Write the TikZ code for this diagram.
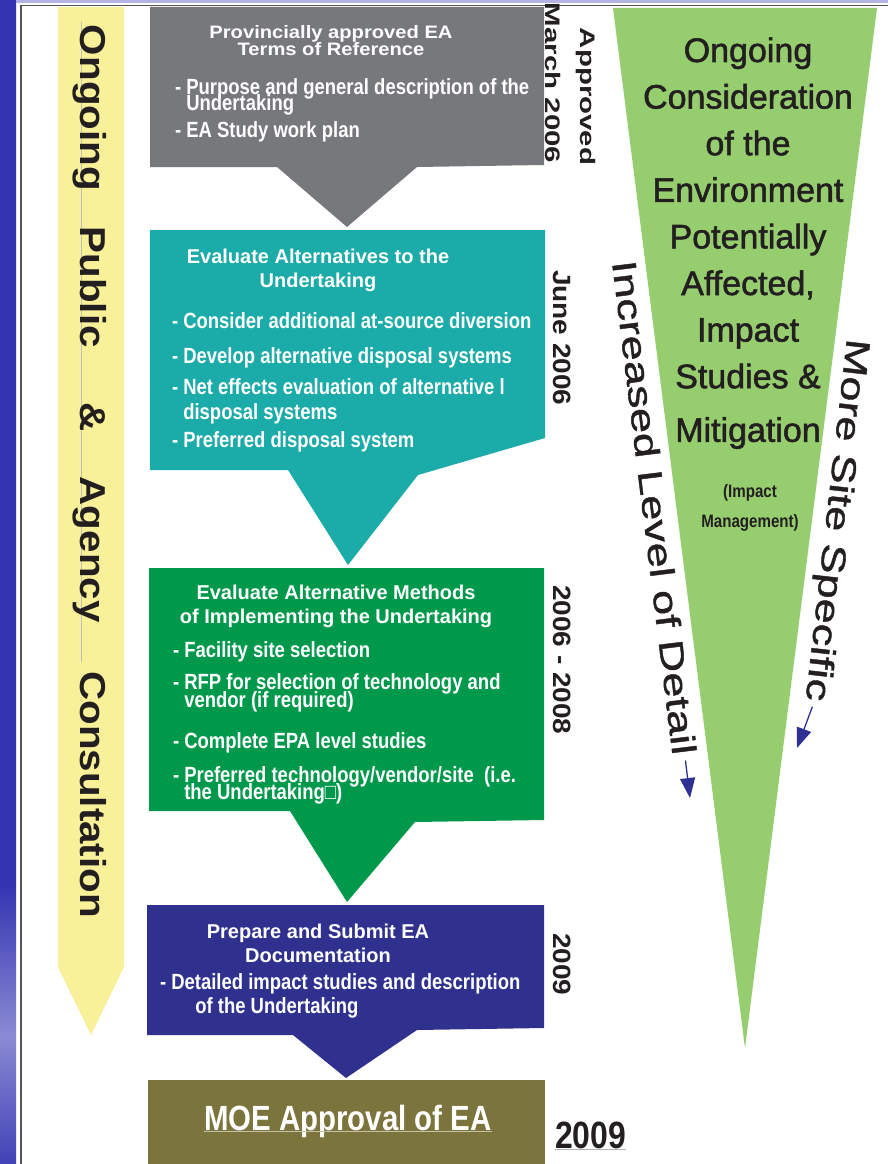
\documentclass[tikz,border=0pt]{standalone}
\usepackage{fontspec}
\setmainfont{Liberation Sans}
\newfontfamily\condfont[FakeStretch=0.84]{Liberation Sans}
\newfontfamily\widefont[FakeStretch=1.12]{Liberation Sans}
\newfontfamily\widerfont[FakeStretch=1.4]{Liberation Sans}
\newfontfamily\sidefont[FakeStretch=1.33,FakeBold=1.2]{Liberation Sans}
\newfontfamily\medfont[FakeBold=1.6]{Liberation Sans}
\usepackage{tikz}
\usetikzlibrary{arrows.meta}
\usepackage{xcolor}

\definecolor{torgray}{HTML}{77787B}
\definecolor{altteal}{HTML}{1BABA8}
\definecolor{methgreen}{HTML}{00994C}
\definecolor{docnavy}{HTML}{30318F}
\definecolor{moeolive}{HTML}{7B743C}
\definecolor{consultyellow}{HTML}{F9F09A}
\definecolor{envgreen}{HTML}{96CD6F}
\definecolor{arrowblue}{HTML}{2E3192}
\definecolor{inkblack}{HTML}{231F20}
\definecolor{framegray}{HTML}{555555}
\definecolor{topband}{HTML}{B4B4E2}
\definecolor{sidedark}{HTML}{2424A8}
\definecolor{sidemid}{HTML}{3434B2}
\definecolor{sidelight}{HTML}{8A8AD4}
\definecolor{sidepale}{HTML}{5A5AC4}
\definecolor{sidetop}{HTML}{9A9ADA}

% side strip of the slide
\pgfdeclareverticalshading{sidebar}{100bp}{color(0bp)=(sidedark); color(24bp)=(sidemid);
  color(30.5bp)=(sidelight); color(37bp)=(sidemid); color(86bp)=(sidemid);
  color(93bp)=(sidepale); color(100bp)=(sidetop)}

% centred lines and hanging items
\newcommand{\centrelines}[2]{\vtop{\baselineskip=#1\lineskiplimit=-\maxdimen
  \halign{\hfil##\hfil\cr#2\crcr}}}
\newcommand{\bul}[3][18pt]{\vtop{\baselineskip=#1\lineskiplimit=-\maxdimen
  \hbox{-~#2}\hbox{\hphantom{-~}#3}}}

\begin{document}
\begin{tikzpicture}[x=1pt,y=-1pt,
	  every node/.style={inner sep=0pt,outer sep=0pt},
	  title/.style={text=white,anchor=base,font=\bfseries\fontsize{20}{24}\selectfont},
	  item/.style={text=white,anchor=base west,font=\condfont\bfseries\fontsize{22}{22}\selectfont},
	  date/.style={text=inkblack,rotate=-90,anchor=base west,font=\widefont\bfseries\fontsize{25}{25}\selectfont},
	  approved/.style={text=inkblack,rotate=-90,anchor=base west,font=\widerfont\bfseries\fontsize{21}{21}\selectfont},
	  consult/.style={text=inkblack,rotate=-90,anchor=base west,font=\widefont\bfseries\fontsize{36}{36}\selectfont},
	  envtext/.style={text=inkblack,anchor=base,font=\medfont\fontsize{34}{34}\selectfont},
	  envnote/.style={text=inkblack,anchor=base,font=\condfont\bfseries\fontsize{18}{18}\selectfont},
	  sidelabel/.style={text=inkblack,anchor=base west,font=\sidefont\fontsize{34}{34}\selectfont},
	  moe/.style={text=white,anchor=base,font=\condfont\bfseries\fontsize{35}{35}\selectfont},
	  bigyear/.style={text=inkblack,anchor=base west,font=\condfont\bfseries\fontsize{38}{38}\selectfont},
	  levelarrow/.style={draw=arrowblue,line width=1.3pt,-{Triangle[width=15pt,length=20pt]},shorten <=6pt},
	  textline/.style={line width=0.6pt}]

	  \useasboundingbox (0,0) rectangle (888,1164);
	  \fill[white] (0,0) rectangle (888,1164);
	  \shade[shading=sidebar] (0,0) rectangle (16,1164);
	  \fill[topband] (16,0) rectangle (888,3);
	  \draw[framegray,line width=1.6pt] (888,5.5) -- (21,5.5) -- (21,1164);

	  % consultation bar
	  \fill[consultyellow] (58,7) -- (124,7) -- (124,967) -- (91,1035) -- (58,967) -- cycle;
	  \draw[textline,black!25] (81,22) -- (81,662);
	  \node[consult] (consult) at (80,25) {Ongoing\hspace{36pt}Public\hspace{55pt}\&\hspace{45pt}Agency\hspace{49pt}Consultation};

	  % terms of reference
	  \fill[torgray] (150,7) -- (544,7) -- (544,165) -- (417,167) -- (347,227) -- (277,167) -- (150,167) -- cycle;
	  \node[title,font=\widefont\bfseries\fontsize{18}{18}\selectfont] (tortitle) at (331,38) {\centrelines{17.5pt}{Provincially approved EA\cr Terms of Reference}};
	  \node[item] (purpose) at (175,94) {\bul[16pt]{Purpose and general description of the}{Undertaking}};
	  \node[item] (workplan) at (175,137) {-~EA Study work plan};

	  % alternatives to
	  \fill[altteal] (150,230) -- (545,230) -- (545,438) -- (418,475) -- (348,565) -- (288,470) -- (150,470) -- cycle;
	  \node[title] (alttitle) at (318,263) {\centrelines{24pt}{Evaluate Alternatives to the\cr Undertaking}};
	  \node[item] (diversion) at (172,328) {-~Consider additional at-source diversion};
	  \node[item] (develop) at (172,363) {-~Develop alternative disposal systems};
	  \node[item] (neteffects) at (172,394) {\bul[25pt]{Net effects evaluation of alternative l}{disposal systems}};
	  \node[item] (prefsystem) at (172,447) {-~Preferred disposal system};

	  % alternative methods
	  \fill[methgreen] (149,568) -- (544,568) -- (544,820) -- (415,822) -- (347,902) -- (290,811) -- (149,811) -- cycle;
	  \node[title] (methtitle) at (336,599) {\centrelines{24pt}{Evaluate Alternative Methods\cr of Implementing the Undertaking}};
	  \node[item] (facility) at (173,657) {-~Facility site selection};
	  \node[item] (rfp) at (173,689) {\bul[18pt]{RFP for selection of technology and}{vendor (if required)}};
	  \node[item] (epa) at (173,748) {-~Complete EPA level studies};
	  \node[item] (preftech) at (173,782) {\bul[17pt]{Preferred technology/vendor/site\ \ (i.e.}{the Undertaking□)}};

	  % documentation
	  \fill[docnavy] (147,905) -- (544,905) -- (544,1028) -- (417,1030) -- (346,1078) -- (293,1035) -- (147,1035) -- cycle;
	  \node[title] (doctitle) at (318,938) {\centrelines{24pt}{Prepare and Submit EA\cr Documentation}};
	  \node[item] (detailed) at (160,989) {\bul[24pt]{Detailed impact studies and description}{\hspace*{24pt}of the Undertaking}};

	  % approval
	  \fill[moeolive] (148,1080) rectangle (545,1164);
	  \node[moe] (moe) at (348,1130) {MOE Approval of EA};
	  \draw[textline,white!55!moeolive] ([yshift=-1pt]moe.base west) -- ([yshift=-1pt]moe.base east);
	  \node[bigyear] (finalyear) at (555,1148) {2009};
	  \draw[textline,black!30] ([yshift=-1.5pt]finalyear.base west) -- ([yshift=-1.5pt]finalyear.base east);

	  % dates
	  \node[approved] (approved) at (580,28) {Approved};
	  \node[approved] (march) at (545,3) {March 2006};
	  \node[date] (june) at (553,270) {June 2006};
	  \node[date] (range) at (553,585) {2006 - 2008};
	  \node[date] (docyear) at (553,933) {2009};

	  % environment wedge
	  \fill[envgreen] (613,8) -- (877,8) -- (745,1048) -- cycle;
	  \node[envtext] (envtitle) at (748,62) {\centrelines{46.6pt}{Ongoing\cr Consideration\cr of the\cr Environment\cr Potentially\cr Affected,\cr Impact\cr Studies \&\cr\noalign{\vskip7pt}Mitigation}};
	  \node[envnote] (impactmgmt) at (750,497) {\centrelines{30pt}{(Impact\cr Management)}};

	  \node[sidelabel,rotate=-83] (detail) at (612,262) {Increased Level of Detail};
	  \coordinate (detailtip) at (690,798);
	  \draw[levelarrow] (detail.east) -- (detailtip);
	  \node[sidelabel,rotate=-96.5] (sitespec) at (847,338) {More Site Specific};
	  \coordinate (sitetip) at (797,748);
	  \draw[levelarrow] (sitespec.east) -- (sitetip);

\end{tikzpicture}
\end{document}
